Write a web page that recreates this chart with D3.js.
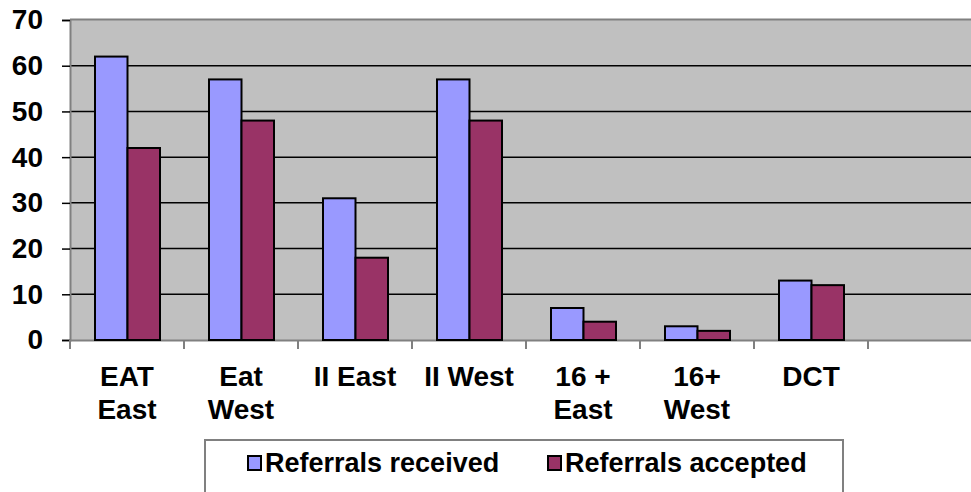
<!DOCTYPE html>
<html>
<head>
<meta charset="utf-8">
<script src="https://cdn.jsdelivr.net/npm/d3@7"></script>
<style>
  body { margin: 0; background: #fff; }
  text { font-family: Arial, "Liberation Sans", sans-serif; font-weight: bold; fill: #000; }
</style>
</head>
<body>
<svg id="chart" width="971" height="492"></svg>
<script>
// chart values
var categories = [["EAT", "East"], ["Eat", "West"], ["II East"], ["II West"], ["16 +", "East"], ["16+", "West"], ["DCT"], [""]];
var received = [62, 57, 31, 57, 7, 3, 13, null];
var accepted = [42, 48, 18, 48, 4, 2, 12, null];
var seriesNames = ["Referrals received", "Referrals accepted"];
var seriesColors = ["#9999FF", "#993366"];
var yTicks = [0, 10, 20, 30, 40, 50, 60, 70];

var svg = d3.select("#chart");
var plotLeft = 70, plotTop = 20, plotBottom = 340, catW = 114;

var x = d3.scaleBand()
    .domain(d3.range(categories.length))
    .range([plotLeft, plotLeft + catW * categories.length]);
var y = d3.scaleLinear().domain([0, 70]).range([plotBottom, plotTop]);

// plot background
svg.append("rect")
    .attr("x", plotLeft).attr("y", plotTop)
    .attr("width", 971 - plotLeft).attr("height", plotBottom - plotTop)
    .style("fill", "#C0C0C0");
svg.append("line")
    .attr("x1", plotLeft).attr("x2", 971).attr("y1", plotTop - 0.5).attr("y2", plotTop - 0.5)
    .style("stroke", "#808080").style("stroke-width", 2);

// gridlines
svg.selectAll(".grid").data(yTicks.slice(1, -1)).enter().append("line")
    .attr("x1", plotLeft).attr("x2", 971)
    .attr("y1", function(d){ return y(d); }).attr("y2", function(d){ return y(d); })
    .style("stroke", "#000").style("stroke-width", 1.5);

// y axis
var yAxis = svg.append("g").attr("transform", "translate(" + plotLeft + ",0)")
    .call(d3.axisLeft(y).tickValues(yTicks).tickSize(8).tickPadding(19));
yAxis.select(".domain").style("stroke", "#808080").style("stroke-width", 2);
yAxis.selectAll(".tick line").style("stroke", "#000").style("stroke-width", 1.5);
yAxis.selectAll(".tick text")
    .style("font-size", "28px").style("font-family", "Arial, 'Liberation Sans', sans-serif")
    .style("font-weight", "bold").attr("fill", "#000");

// x axis
var xAxis = svg.append("g").attr("transform", "translate(0," + plotBottom + ")")
    .call(d3.axisBottom(x).tickSize(0).tickFormat(""));
xAxis.select(".domain").style("stroke", "#808080").style("stroke-width", 2);
svg.selectAll(".ctick").data(d3.range(categories.length + 1)).enter().append("line")
    .attr("x1", function(d){ return plotLeft + d * x.bandwidth(); })
    .attr("x2", function(d){ return plotLeft + d * x.bandwidth(); })
    .attr("y1", plotBottom).attr("y2", plotBottom + 9)
    .style("stroke", "#808080").style("stroke-width", 2);

// bars
var barOff = 25, barW = 32.5;
[received, accepted].forEach(function(series, s){
    svg.selectAll(".bar" + s).data(series.map(function(v, i){ return {v: v, i: i}; })).enter()
        .filter(function(d){ return d.v != null; })
        .append("rect")
        .attr("x", function(d){ return x(d.i) + barOff + s * barW; })
        .attr("y", function(d){ return y(d.v); })
        .attr("width", barW)
        .attr("height", function(d){ return y(0) - y(d.v); })
        .style("fill", seriesColors[s])
        .style("stroke", "#000").style("stroke-width", 2);
});

// category labels
categories.forEach(function(lines, i){
    var t = svg.append("text")
        .attr("x", x(i) + x.bandwidth() / 2)
        .attr("y", 386)
        .attr("text-anchor", "middle")
        .style("font-size", "28px");
    lines.forEach(function(l, j){
        t.append("tspan").attr("x", x(i) + x.bandwidth() / 2).attr("dy", j ? 33 : 0).text(l);
    });
});

// legend
var lg = svg.append("g");
lg.append("rect")
    .attr("x", 205).attr("y", 440).attr("width", 638).attr("height", 60)
    .style("fill", "#fff").style("stroke", "#808080").style("stroke-width", 2);
var legX = [248, 548];
seriesNames.forEach(function(name, s){
    lg.append("rect")
        .attr("x", legX[s]).attr("y", 456).attr("width", 13).attr("height", 14)
        .style("fill", seriesColors[s]).style("stroke", "#000").style("stroke-width", 2);
    lg.append("text")
        .attr("x", legX[s] + 17).attr("y", 472)
        .style("font-size", "27px")
        .text(name);
});
</script>
</body>
</html>
